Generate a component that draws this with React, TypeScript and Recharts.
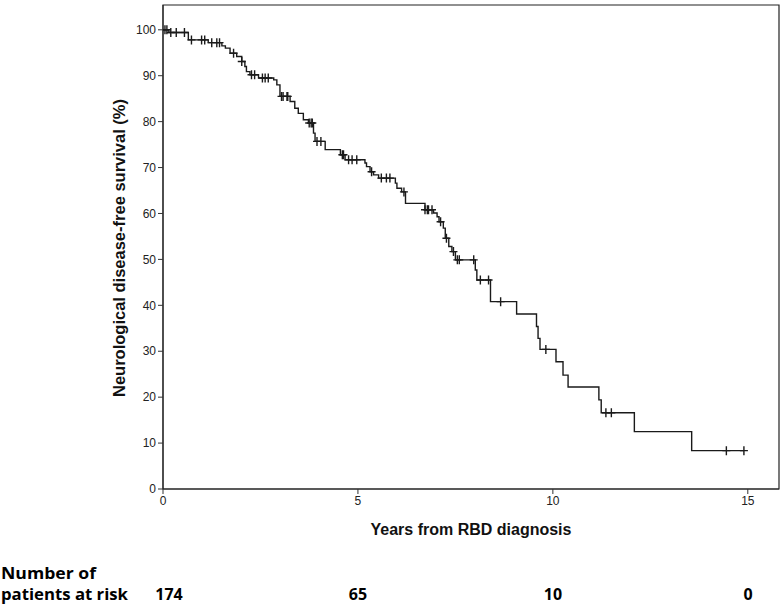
import React from 'react';
import { ComposedChart, Line, Scatter, XAxis, YAxis, ReferenceArea } from 'recharts';

// Kaplan-Meier steps: time (years) and survival (%) just after each event
const eventYears = [
  0.15, 0.65, 1.16, 1.51, 1.6, 1.72, 1.89, 2.02, 2.1, 2.14, 2.23, 2.45, 2.84, 2.92, 3.0,
  3.26, 3.38, 3.47, 3.6, 3.73, 3.86, 3.9, 4.16, 4.55, 4.67, 5.18, 5.22, 5.31, 5.4, 5.53,
  5.96, 6.0, 6.12, 6.22, 6.72, 6.94, 7.03, 7.08, 7.19, 7.24, 7.33, 7.41, 7.5, 8.01, 8.05,
  8.4, 9.07, 9.58, 9.62, 9.67, 10.08, 10.26, 10.39, 11.18, 11.24, 12.09, 13.56,
];
const eventSurvival = [
  99.4, 97.8, 97.2, 96.5, 96.0, 94.9, 94.2, 93.1, 92.0, 90.9, 90.2, 89.5, 89.1, 88.0, 85.5,
  84.4, 82.9, 81.8, 80.4, 79.7, 77.5, 75.7, 73.9, 72.8, 71.7, 71.0, 70.2, 69.1, 68.4, 67.7,
  66.6, 65.5, 64.7, 62.2, 60.8, 60.1, 59.3, 58.2, 56.8, 54.6, 52.8, 51.7, 49.9, 47.7, 45.5,
  40.8, 38.1, 35.4, 32.8, 30.4, 27.7, 24.8, 22.2, 19.4, 16.6, 12.5, 8.35,
];
const lastFollowUp = 14.9;

// censored observations (years)
const censorYears = [
  0.05, 0.1, 0.2, 0.34, 0.55, 0.73, 0.99, 1.07, 1.25, 1.38, 1.45, 1.81, 2.02, 2.27, 2.35,
  2.55, 2.62, 2.7, 3.04, 3.08, 3.18, 3.2, 3.75, 3.8, 3.83, 3.95, 4.05, 4.6, 4.63, 4.76,
  4.85, 4.97, 5.35, 5.6, 5.73, 5.82, 6.18, 6.72, 6.78, 6.81, 6.9, 7.12, 7.27, 7.45, 7.55,
  7.6, 7.97, 8.14, 8.35, 8.66, 9.82, 11.36, 11.5, 14.45, 14.9,
];

const xTicks = [0, 5, 10, 15];
const yTicks = [0, 10, 20, 30, 40, 50, 60, 70, 80, 90, 100];
const riskYears = [0, 5, 10, 15];
const atRisk = [174, 65, 10, 0];

const curve = [
  { t: 0, s: 100 },
  ...eventYears.map((t, i) => ({ t, s: eventSurvival[i] })),
  { t: lastFollowUp, s: eventSurvival[eventSurvival.length - 1] },
];

const survivalAt = (t: number) => {
  let s = 100;
  eventYears.forEach((e, i) => {
    if (e <= t) s = eventSurvival[i];
  });
  return s;
};

const censors = censorYears.map(t => ({ t, s: survivalAt(t) }));

const X_MAX = 15.8;
const Y_MAX = 105.4;
const plotLeft = 163;
const plotRight = 779;
const pxPerYear = 39;

const Cross = (props: any) => {
  const { cx, cy } = props;
  if (cx == null || cy == null) return null;
  return (
    <path
      d={`M${cx - 4},${cy}h8M${cx},${cy - 4.5}v9`}
      stroke="#1a1a1a"
      strokeWidth={1.4}
      fill="none"
    />
  );
};

const tickStyle = { fontSize: 12, fill: '#222', fontFamily: 'Liberation Sans, Arial, sans-serif' };
const arial = 'Liberation Sans, Arial, sans-serif';
const tableFont = '"Open Sans", "Noto Sans", sans-serif';

export default function App() {
  return (
    <div style={{ position: 'absolute', left: 0, top: 0, width: 784, height: 609, background: '#fff' }}>
      <ComposedChart
        width={784}
        height={609}
        margin={{ top: 5, right: 784 - plotRight, bottom: 90, left: plotLeft - 60 }}
      >
        <XAxis
          dataKey="t"
          type="number"
          domain={[0, X_MAX]}
          ticks={xTicks}
          tick={tickStyle}
          tickSize={5}
          tickLine={{ stroke: '#333' }}
          axisLine={{ stroke: '#222' }}
          allowDataOverflow
        />
        <YAxis
          type="number"
          domain={[0, Y_MAX]}
          ticks={yTicks}
          tick={tickStyle}
          tickSize={5}
          tickLine={{ stroke: '#333' }}
          axisLine={{ stroke: '#222' }}
          width={60}
          allowDataOverflow
        />
        <ReferenceArea x1={0} x2={X_MAX} y1={0} y2={Y_MAX} fill="none" stroke="#222" strokeWidth={1.2} />
        <Line
          data={curve}
          dataKey="s"
          type="stepAfter"
          stroke="#1a1a1a"
          strokeWidth={1.4}
          dot={false}
          isAnimationActive={false}
        />
        <Scatter data={censors} dataKey="s" shape={<Cross />} isAnimationActive={false} />
      </ComposedChart>
      <svg
        width={784}
        height={609}
        style={{ position: 'absolute', left: 0, top: 0, pointerEvents: 'none' }}
      >
        <text
          x={125}
          y={248}
          transform="rotate(-90,125,248)"
          textAnchor="middle"
          fontFamily={arial}
          fontWeight="bold"
          fontSize={16.5}
          fill="#111"
        >
          Neurological disease-free survival (%)
        </text>
        <text
          x={471}
          y={535}
          textAnchor="middle"
          fontFamily={arial}
          fontWeight="bold"
          fontSize={16}
          fill="#111"
        >
          Years from RBD diagnosis
        </text>
        <text x={1} y={579} fontFamily={tableFont} fontWeight="bold" fontSize={16} fill="#000"
          textLength={95} lengthAdjust="spacingAndGlyphs">
          Number of
        </text>
        <text x={1} y={600} fontFamily={tableFont} fontWeight="bold" fontSize={16} fill="#000"
          textLength={127} lengthAdjust="spacingAndGlyphs">
          patients at risk
        </text>
        {riskYears.map((yr, i) => (
          <text
            key={yr}
            x={plotLeft + yr * pxPerYear + (i === 0 ? 6 : 0)}
            y={600}
            textAnchor="middle"
            fontFamily={tableFont}
            fontWeight="bold"
            fontSize={16}
            fill="#000"
          >
            {atRisk[i]}
          </text>
        ))}
      </svg>
    </div>
  );
}
